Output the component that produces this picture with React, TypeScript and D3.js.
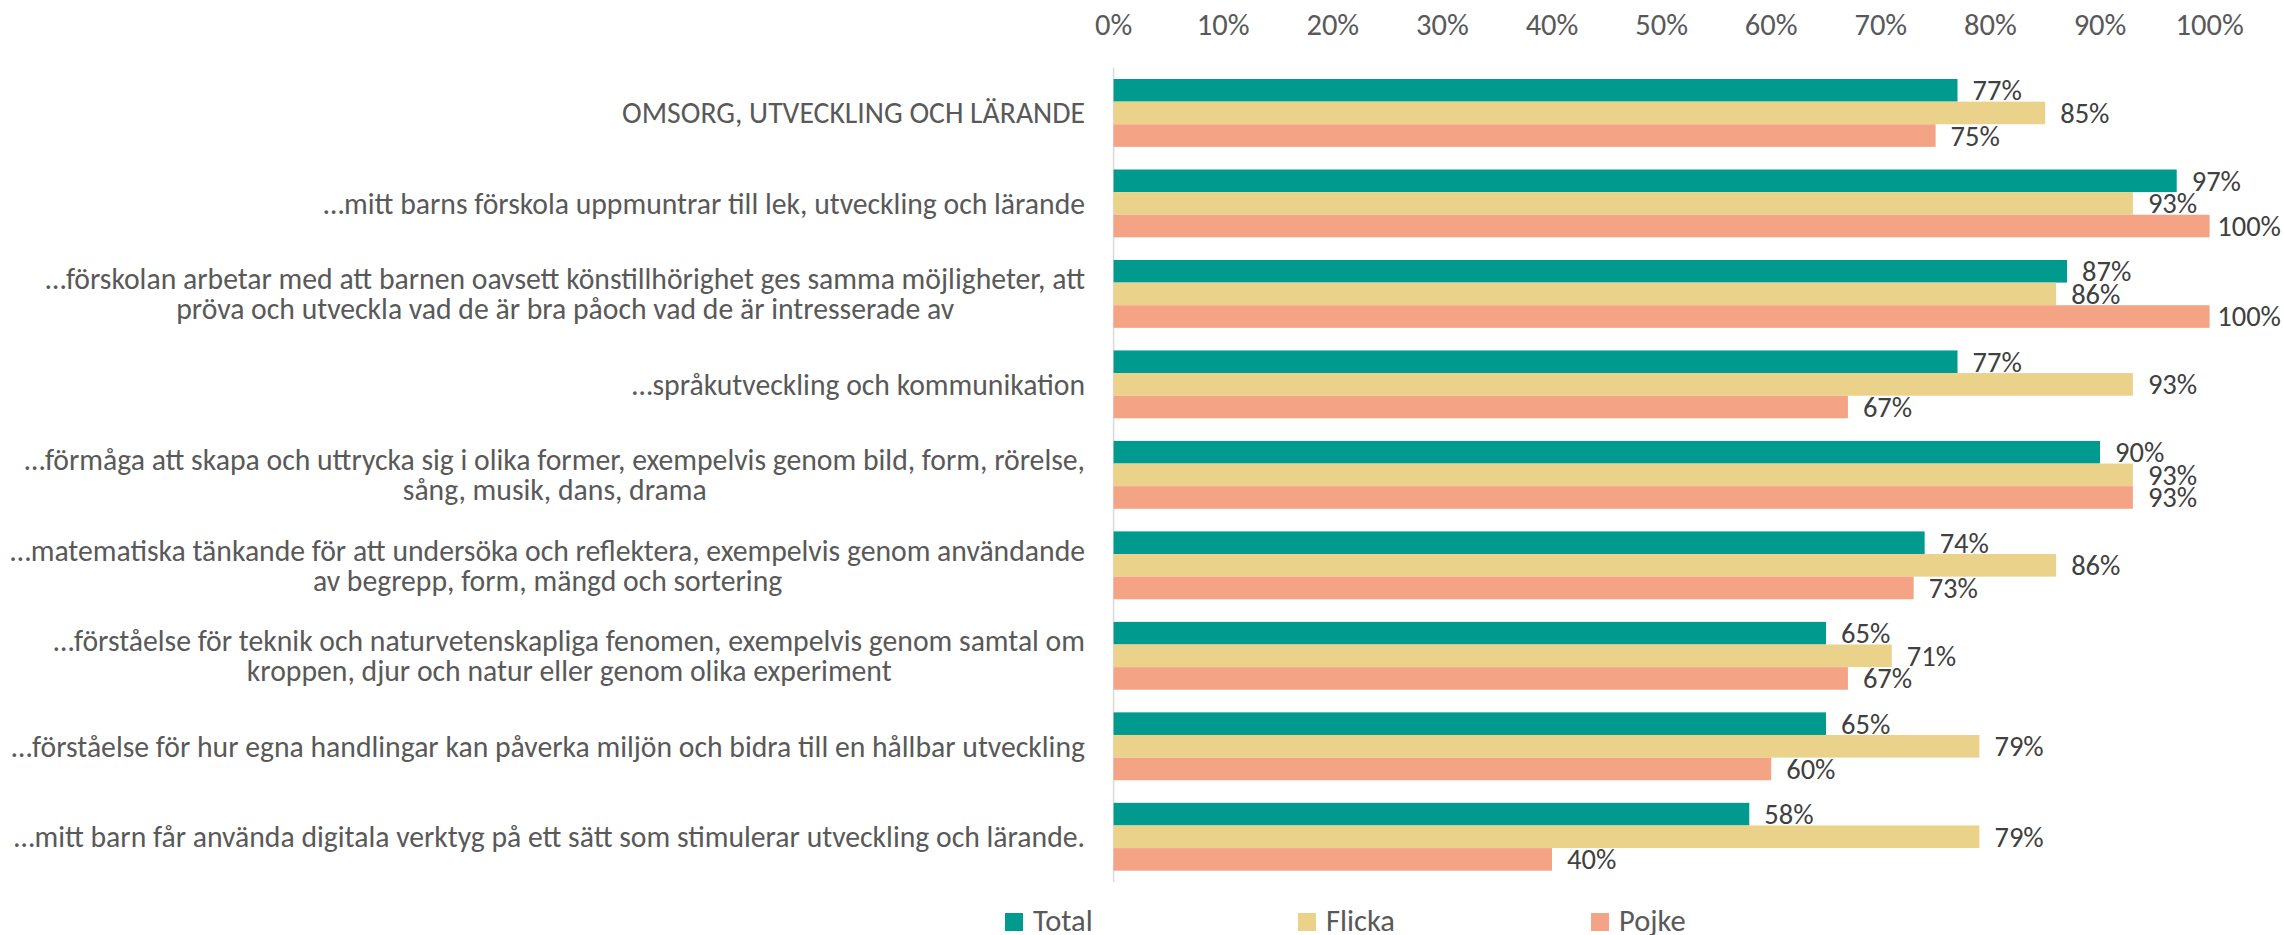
import React, { useMemo } from "react";
import * as d3 from "d3";

const categories = [
  "OMSORG, UTVECKLING OCH LÄRANDE",
  "…mitt barns förskola uppmuntrar till lek, utveckling och lärande",
  "…förskolan arbetar med att barnen oavsett könstillhörighet ges samma möjligheter, att\npröva och utveckla vad de är bra påoch vad de är intresserade av",
  "…språkutveckling och kommunikation",
  "…förmåga att skapa och uttrycka sig i olika former, exempelvis genom bild, form, rörelse,\nsång, musik, dans, drama",
  "…matematiska tänkande för att undersöka och reflektera, exempelvis genom användande\nav begrepp, form, mängd och sortering",
  "…förståelse för teknik och naturvetenskapliga fenomen, exempelvis genom samtal om\nkroppen, djur och natur eller genom olika experiment",
  "…förståelse för hur egna handlingar kan påverka miljön och bidra till en hållbar utveckling",
  "…mitt barn får använda digitala verktyg på ett sätt som stimulerar utveckling och lärande.",
];

const seriesNames = ["Total", "Flicka", "Pojke"];
const total = [77, 97, 87, 77, 90, 74, 65, 65, 58];
const flicka = [85, 93, 86, 93, 93, 86, 71, 79, 79];
const pojke = [75, 100, 100, 67, 93, 73, 67, 60, 40];
const seriesColors = ["#009A8E", "#EAD28B", "#F4A485"];
const xTicks = [0, 10, 20, 30, 40, 50, 60, 70, 80, 90, 100];

const W = 2284;
const H = 935;
const FONT = "Carlito, 'Liberation Sans Narrow', 'Open Sans', sans-serif";
const FS_CAT = 29.7;
const FS_TICK = 30.5;
const FS_DATA = 28.5;
const FS_LEG = 30.5;

let ctx: CanvasRenderingContext2D | null = null;
function measure(t: string, fs: number) {
  if (!ctx) {
    const c = document.createElement("canvas");
    ctx = c.getContext("2d");
  }
  if (!ctx) return t.length * fs * 0.45;
  ctx.font = `${fs}px ${FONT}`;
  return ctx.measureText(t).width;
}

export default function App() {
  const values = [total, flicka, pojke];
  const x = d3.scaleLinear().domain([0, 100]).range([1113.6, 2209.6]);
  const y = d3
    .scaleBand<number>()
    .domain(categories.map((_, i) => i))
    .range([67.7, 882])
    .paddingInner(0.25)
    .paddingOuter(0.125);
  const sub = d3
    .scaleBand<string>()
    .domain(seriesNames)
    .range([0, y.bandwidth()]);

  const labelRight = 1085;
  const lineH = 30;
  const dataRightLimit = 2281;

  const labels = useMemo(
    () =>
      categories.map((c) => {
        const lines = c.split("\n");
        const widths = lines.map((l) => measure(l, FS_CAT));
        const maxW = Math.max(...widths);
        return { lines, cx: labelRight - maxW / 2 };
      }),
    []
  );

  const legendX = [1005, 1298, 1591];

  return (
    <svg
      width={W}
      height={H}
      style={{ position: "absolute", left: 0, top: 0, background: "#fff" }}
      fontFamily={FONT}
    >
      {/* x axis tick labels */}
      {xTicks.map((t) => (
        <text
          key={t}
          x={x(t)}
          y={35}
          textAnchor="middle"
          fontSize={FS_TICK}
          fill="#595959"
        >
          {t}%
        </text>
      ))}
      {/* axis line */}
      <line x1={x(0)} x2={x(0)} y1={67.7} y2={882} stroke="#d9d9d9" strokeWidth={1.5} />
      {/* category labels */}
      {labels.map((lb, i) => {
        const cy = (y(i) as number) + y.bandwidth() / 2;
        const n = lb.lines.length;
        return (
          <text key={i} fontSize={FS_CAT} fill="#595959" textAnchor="middle">
            {lb.lines.map((l, j) => (
              <tspan key={j} x={lb.cx} y={cy + (j - (n - 1) / 2) * lineH} dy="0.35em">
                {l}
              </tspan>
            ))}
          </text>
        );
      })}
      {/* bars */}
      {categories.map((_, i) => (
        <g key={i} transform={`translate(0,${y(i)})`}>
          {seriesNames.map((s, k) => {
            const v = values[k][i];
            const by = sub(s) as number;
            const label = `${v}%`;
            const lw = measure(label, FS_DATA);
            const lx = Math.min(x(v) + 15, dataRightLimit - lw);
            return (
              <g key={s}>
                <rect
                  x={x(0)}
                  y={by}
                  width={x(v) - x(0)}
                  height={sub.bandwidth()}
                  fill={seriesColors[k]}
                />
                <text
                  x={lx}
                  y={by + sub.bandwidth() / 2}
                  dy="0.35em"
                  fontSize={FS_DATA}
                  fill="#404040"
                >
                  {label}
                </text>
              </g>
            );
          })}
        </g>
      ))}
      {/* legend */}
      {seriesNames.map((s, k) => (
        <g key={s}>
          <rect x={legendX[k]} y={913} width={18} height={18} fill={seriesColors[k]} />
          <text x={legendX[k] + 28} y={931} fontSize={FS_LEG} fill="#595959">
            {s}
          </text>
        </g>
      ))}
    </svg>
  );
}
